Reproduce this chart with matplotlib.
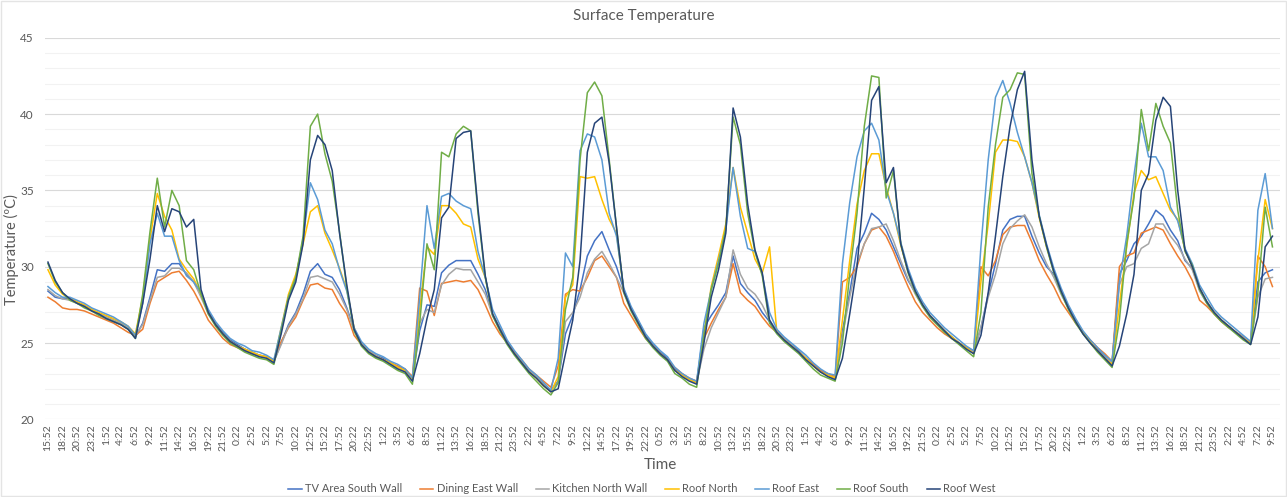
import matplotlib
matplotlib.use("Agg")
import matplotlib.pyplot as plt
from matplotlib.patches import Rectangle
from matplotlib.ticker import MultipleLocator
import numpy as np

START_MIN = 15 * 60 + 52   # first reading taken at 15:52
STEP_H = 1.25              # hours between readings
TICK_H = 2.5               # hours between axis labels

# surface temperatures (degC), one value per reading
tv_south = [
    28.4, 28.0, 27.9, 27.9, 27.7, 27.4, 27.2, 26.9, 26.7, 26.5, 26.3, 26.0, 25.4,
    26.3, 28.0, 29.8, 29.7, 30.2, 30.2, 29.5, 29.0,
    28.2, 27.1, 26.3, 25.7, 25.2, 24.9, 24.6, 24.4, 24.2, 24.1, 23.8,
    25.0, 26.2, 27.0, 28.2, 29.7, 30.2, 29.5, 29.3, 28.5, 27.3,
    25.9, 25.0, 24.5, 24.2, 24.0, 23.7, 23.4, 23.2, 22.6,
    25.8, 27.5, 27.4, 29.6, 30.1, 30.4, 30.4, 30.4, 29.5, 28.5,
    26.9, 26.0, 25.1, 24.4, 23.8, 23.2, 22.8, 22.3, 21.9,
    22.5, 25.6, 26.8, 28.5, 30.7, 31.7, 32.3, 31.1, 30.0,
    28.5, 27.3, 26.4, 25.5, 24.9, 24.4, 24.0, 23.3, 22.9, 22.6, 22.4,
    26.0, 26.8, 27.5, 28.3, 30.7, 28.9, 28.3, 27.8, 27.0, 26.4,
    25.8, 25.3, 24.9, 24.5, 24.0, 23.6, 23.2, 22.9, 22.7,
    25.8, 28.3, 31.2, 32.2, 33.5, 33.1, 32.4, 31.3, 30.2, 29.1,
    28.3, 27.5, 26.8, 26.3, 25.8, 25.4, 25.0, 24.7, 24.4,
    26.0, 28.2, 30.2, 32.4, 33.1, 33.3, 33.3, 32.0, 30.9, 30.0,
    29.5, 28.3, 27.3, 26.4, 25.7, 25.1, 24.6, 24.1, 23.7,
    29.5, 30.4, 31.5, 32.0, 32.8, 33.7, 33.3, 32.4, 31.7, 30.4, 29.9,
    28.5, 27.7, 27.0, 26.5, 26.1, 25.7, 25.4, 25.0, 29.0, 29.6, 29.8,
]
dining_east = [
    28.0, 27.7, 27.3, 27.2, 27.2, 27.1, 26.9, 26.7, 26.5, 26.3, 26.0, 25.7, 25.5,
    25.9, 27.6, 29.0, 29.3, 29.6, 29.7, 29.1, 28.4,
    27.5, 26.5, 25.9, 25.3, 24.9, 24.7, 24.5, 24.3, 24.2, 24.1, 23.9,
    25.1, 26.0, 26.7, 27.8, 28.8, 28.9, 28.6, 28.5, 27.6, 26.9,
    25.5, 24.9, 24.4, 24.1, 23.9, 23.7, 23.5, 23.3, 22.8,
    28.6, 28.4, 26.8, 28.9, 29.0, 29.1, 29.0, 29.1, 28.5, 27.5,
    26.4, 25.6, 25.0, 24.4, 23.9, 23.3, 22.9, 22.5, 22.1,
    23.5, 28.2, 28.5, 28.4, 29.3, 30.4, 30.7, 30.0, 29.3,
    27.6, 26.8, 26.0, 25.3, 24.8, 24.3, 23.9, 23.4, 23.0, 22.7, 22.5,
    25.3, 26.3, 27.2, 28.0, 30.2, 28.3, 27.8, 27.4, 26.7, 26.1,
    25.7, 25.2, 24.8, 24.4, 24.0, 23.6, 23.2, 23.0, 22.8,
    29.0, 29.3, 30.0, 31.5, 32.4, 32.6, 32.0, 31.0, 29.8, 28.7,
    27.7, 27.0, 26.5, 26.0, 25.6, 25.3, 25.0, 24.7, 24.5,
    30.0, 29.4, 30.4, 32.1, 32.6, 32.7, 32.7, 31.6, 30.4, 29.5,
    28.7, 27.7, 27.0, 26.3, 25.7, 25.2, 24.7, 24.3, 23.8,
    30.0, 30.7, 30.9, 32.2, 32.4, 32.6, 32.4, 31.5, 30.7, 30.0, 29.1,
    27.8, 27.4, 26.9, 26.4, 26.0, 25.7, 25.4, 25.1, 30.7, 30.0, 28.7,
]
kitchen_north = [
    28.5, 28.1, 27.9, 27.8, 27.6, 27.4, 27.2, 26.9, 26.7, 26.5, 26.3, 26.0, 25.5,
    26.2, 27.8, 29.3, 29.4, 29.9, 29.9, 29.6, 29.0,
    28.0, 26.9, 26.2, 25.6, 25.1, 24.8, 24.6, 24.4, 24.2, 24.1, 23.8,
    24.9, 26.1, 26.9, 27.9, 29.3, 29.4, 29.2, 29.0, 28.2, 27.2,
    25.8, 25.0, 24.5, 24.2, 23.9, 23.7, 23.4, 23.2, 22.7,
    26.3, 27.2, 27.0, 28.8, 29.5, 29.9, 29.8, 29.8, 29.0, 28.2,
    26.8, 25.9, 25.0, 24.3, 23.8, 23.2, 22.8, 22.3, 21.9,
    22.4, 26.4, 27.0, 28.0, 29.6, 30.5, 31.0, 30.2, 29.3,
    28.3, 27.2, 26.3, 25.4, 24.8, 24.3, 23.9, 23.2, 22.9, 22.6, 22.4,
    24.6, 26.0, 27.0, 28.0, 31.1, 29.5, 28.6, 28.2, 27.5, 26.5,
    25.8, 25.3, 24.9, 24.4, 24.0, 23.5, 23.1, 22.9, 22.7,
    25.5, 28.0, 30.2, 31.5, 32.5, 32.6, 32.8, 31.7, 30.4, 29.2,
    28.2, 27.4, 26.7, 26.2, 25.8, 25.4, 25.0, 24.7, 24.4,
    26.0, 28.0, 29.5, 31.5, 32.5, 33.0, 33.4, 32.6, 31.3, 30.2,
    29.3, 28.2, 27.3, 26.4, 25.7, 25.1, 24.5, 24.1, 23.7,
    28.8, 30.0, 30.2, 31.2, 31.5, 32.8, 32.8, 32.0, 31.4, 30.5, 29.8,
    28.4, 27.6, 27.0, 26.5, 26.1, 25.7, 25.4, 25.0, 28.0, 29.2, 29.3,
]
roof_north = [
    29.8, 28.8, 28.2, 27.9, 27.7, 27.5, 27.2, 27.0, 26.8, 26.6, 26.4, 26.1, 25.6,
    28.0, 31.8, 34.8, 33.3, 32.4, 30.5, 29.8, 29.2,
    28.2, 27.0, 26.2, 25.6, 25.1, 24.8, 24.6, 24.4, 24.2, 24.1, 23.8,
    26.0, 28.2, 29.5, 31.5, 33.6, 34.0, 32.2, 31.1, 29.9, 28.5,
    26.0, 24.9, 24.4, 24.1, 23.9, 23.7, 23.4, 23.2, 22.6,
    27.2, 31.3, 30.8, 34.0, 34.0, 33.5, 32.8, 32.6, 30.5, 29.3,
    26.9, 25.9, 25.0, 24.3, 23.7, 23.1, 22.7, 22.2, 21.8,
    22.8, 28.0, 28.8, 35.9, 35.8, 35.9, 34.4, 33.1, 32.2,
    28.4, 27.2, 26.3, 25.4, 24.8, 24.3, 23.9, 23.2, 22.9, 22.6, 22.4,
    25.6, 28.7, 30.7, 32.8, 36.5, 33.9, 32.2, 30.5, 29.6, 31.3,
    25.7, 25.2, 24.8, 24.4, 24.0, 23.5, 23.1, 22.9, 22.7,
    26.5, 30.4, 34.1, 36.3, 37.4, 37.4, 35.2, 33.5, 31.4, 29.7,
    28.4, 27.5, 26.8, 26.3, 25.8, 25.4, 25.0, 24.7, 24.3,
    29.0, 32.8, 37.5, 38.3, 38.3, 38.2, 37.2, 35.5, 33.2, 31.3,
    29.7, 28.4, 27.3, 26.4, 25.7, 25.1, 24.5, 24.0, 23.6,
    27.5, 31.3, 34.8, 36.3, 35.7, 35.9, 34.8, 33.7, 33.1, 31.1, 30.0,
    28.6, 27.7, 27.0, 26.5, 26.1, 25.7, 25.3, 25.0, 30.4, 34.4, 32.5,
]
roof_east = [
    28.7, 28.3, 28.0, 28.0, 27.8, 27.6, 27.3, 27.1, 26.9, 26.7, 26.4, 26.1, 25.5,
    27.6, 31.5, 33.5, 32.0, 32.0, 30.4, 29.4, 29.0,
    28.3, 27.2, 26.4, 25.8, 25.3, 25.0, 24.8, 24.5, 24.4, 24.2, 23.9,
    26.0, 28.0, 29.2, 31.8, 35.5, 34.4, 32.4, 31.5, 29.8, 28.4,
    26.0, 25.1, 24.6, 24.3, 24.1, 23.8, 23.6, 23.3, 22.7,
    28.0, 34.0, 31.2, 34.6, 34.8, 34.3, 34.0, 33.8, 31.0, 29.3,
    27.2, 26.2, 25.2, 24.5, 23.9, 23.3, 22.9, 22.4, 21.9,
    24.0, 30.9, 30.0, 37.6, 38.7, 38.5, 37.0, 33.5, 32.0,
    28.6, 27.4, 26.5, 25.6, 25.0, 24.5, 24.1, 23.4, 23.0, 22.7, 22.5,
    26.3, 28.5, 30.4, 32.4, 36.5, 33.3, 31.2, 31.0, 29.5, 27.0,
    25.9, 25.4, 25.0, 24.6, 24.2, 23.7, 23.3, 23.0, 22.9,
    30.2, 34.2, 37.2, 38.9, 39.4, 38.3, 35.0, 33.5, 31.6, 29.9,
    28.6, 27.7, 27.0, 26.5, 26.0, 25.6, 25.2, 24.8, 24.5,
    31.3, 37.0, 41.1, 42.2, 40.7, 38.8, 37.2, 35.5, 33.4, 31.5,
    29.9, 28.6, 27.5, 26.6, 25.8, 25.2, 24.7, 24.2, 23.8,
    29.0, 32.0, 36.0, 39.4, 37.2, 37.2, 36.3, 33.9, 33.0, 31.2, 30.2,
    28.8, 28.0, 27.2, 26.7, 26.3, 25.9, 25.5, 25.1, 33.7, 36.1, 32.5,
]
roof_south = [
    30.2, 29.0, 28.3, 27.8, 27.6, 27.3, 27.1, 26.8, 26.6, 26.4, 26.2, 25.9, 25.3,
    28.2, 32.3, 35.8, 32.6, 35.0, 34.0, 30.4, 29.8,
    28.2, 26.9, 26.1, 25.5, 25.0, 24.7, 24.4, 24.2, 24.0, 23.9, 23.6,
    25.8, 28.0, 29.3, 32.0, 39.2, 40.0, 37.4, 35.6, 32.3, 28.6,
    25.8, 24.8, 24.3, 24.0, 23.8, 23.5, 23.2, 23.0, 22.3,
    26.3, 31.5, 29.8, 37.5, 37.2, 38.7, 39.2, 38.9, 33.5, 29.3,
    26.8, 25.8, 24.9, 24.2, 23.6, 23.0, 22.5, 22.0, 21.6,
    22.4, 27.2, 29.3, 37.0, 41.4, 42.1, 41.2, 37.0, 32.6,
    28.3, 27.1, 26.2, 25.3, 24.7, 24.2, 23.8, 23.0, 22.7, 22.3, 22.1,
    25.5, 28.5, 30.2, 32.5, 39.8, 38.0, 33.5, 31.0, 29.4, 26.3,
    25.6, 25.1, 24.7, 24.3, 23.8, 23.3, 22.9, 22.7, 22.5,
    25.0, 29.5, 33.5, 39.2, 42.5, 42.4, 34.5, 36.3, 31.5, 29.6,
    28.3, 27.4, 26.7, 26.2, 25.7, 25.3, 24.9, 24.5, 24.1,
    27.0, 33.9, 38.0, 41.1, 41.6, 42.7, 42.6, 36.1, 33.3, 31.3,
    29.6, 28.3, 27.2, 26.3, 25.6, 25.0, 24.4, 23.9, 23.4,
    26.5, 31.5, 34.5, 40.3, 37.6, 40.7, 39.2, 38.1, 33.7, 31.0, 30.1,
    28.5, 27.6, 26.9, 26.4, 26.0, 25.6, 25.2, 24.9, 28.3, 33.9, 31.3,
]
roof_west = [
    30.3, 29.1, 28.3, 27.9, 27.6, 27.4, 27.1, 26.9, 26.6, 26.4, 26.2, 25.9, 25.3,
    27.6, 30.5, 34.0, 32.3, 33.8, 33.6, 32.6, 33.1,
    28.5, 27.0, 26.2, 25.6, 25.1, 24.8, 24.5, 24.3, 24.1, 24.0, 23.7,
    25.6, 27.8, 29.0, 31.5, 37.0, 38.6, 38.0, 36.3, 32.2, 28.8,
    25.9, 24.9, 24.4, 24.1, 23.9, 23.6, 23.3, 23.1, 22.5,
    24.3, 26.6, 28.5, 33.2, 33.9, 38.4, 38.8, 38.9, 33.8, 29.4,
    26.9, 25.9, 25.0, 24.3, 23.7, 23.1, 22.7, 22.2, 21.8,
    22.0, 24.3, 26.5, 30.4, 37.5, 39.4, 39.8, 36.8, 32.6,
    28.4, 27.2, 26.3, 25.4, 24.8, 24.3, 23.9, 23.2, 22.8, 22.5, 22.3,
    25.0, 28.0, 29.8, 32.2, 40.4, 38.5, 34.1, 31.1, 29.6, 26.5,
    25.7, 25.2, 24.8, 24.4, 23.9, 23.5, 23.1, 22.8, 22.6,
    24.0, 26.9, 30.0, 35.2, 40.9, 41.8, 35.5, 36.5, 31.5, 29.7,
    28.4, 27.5, 26.8, 26.3, 25.8, 25.3, 25.0, 24.6, 24.3,
    25.5, 28.3, 32.0, 35.9, 39.2, 41.6, 42.8, 37.0, 33.3, 31.4,
    29.7, 28.4, 27.3, 26.4, 25.6, 25.0, 24.5, 24.0, 23.5,
    24.8, 26.9, 29.5, 35.0, 36.1, 39.6, 41.1, 40.5, 35.0, 31.1, 30.0,
    28.6, 27.7, 27.0, 26.5, 26.1, 25.7, 25.3, 24.9, 26.7, 31.3, 32.0,
]

series = [
    ("TV Area South Wall", tv_south, "#4472C4"),
    ("Dining East Wall", dining_east, "#ED7D31"),
    ("Kitchen North Wall", kitchen_north, "#A5A5A5"),
    ("Roof North", roof_north, "#FFC000"),
    ("Roof East", roof_east, "#5B9BD5"),
    ("Roof South", roof_south, "#70AD47"),
    ("Roof West", roof_west, "#264478"),
]


def clock_label(h):
    m = int(round(START_MIN + h * 60)) % (24 * 60)
    return f"{m // 60}:{m % 60:02d}"


plt.rcParams["font.family"] = ["Lato", "DejaVu Sans"]
TEXT = "#595959"

fig = plt.figure(figsize=(12.87, 4.97), dpi=100)
fig.patches.append(Rectangle((0.001, 0.002), 0.998, 0.995, transform=fig.transFigure,
                             fill=False, edgecolor="#E4E4E4", lw=1.0))
ax = fig.add_axes([0.035, 0.1563, 0.9596, 0.7677])

for name, vals, col in series:
    hours = np.arange(len(vals)) * STEP_H
    ax.plot(hours, vals, color=col, lw=1.1, label=name)

ax.set_xlim(-0.5, 211.3)
ax.set_ylim(20, 45)
ax.yaxis.set_major_locator(MultipleLocator(5))
ax.yaxis.set_minor_locator(MultipleLocator(1))
ax.grid(which="major", axis="y", color="#D9D9D9", lw=0.8)
ax.grid(which="minor", axis="y", color="#F2F2F2", lw=0.8)
ax.set_axisbelow(True)

ticks = np.arange(0, (len(tv_south) - 1) * STEP_H + 0.01, TICK_H)
ax.set_xticks(ticks)
ax.set_xticklabels([clock_label(t) for t in ticks], rotation=90, fontsize=7.5, color=TEXT)
ax.tick_params(axis="x", length=0, pad=4)
ax.tick_params(axis="y", which="both", length=0, pad=8, labelsize=8.5, labelcolor=TEXT)
for s in ax.spines.values():
    s.set_visible(False)

fig.text(0.5, 1 - 16 / 497, "Surface Temperature", ha="center", va="center",
         fontsize=11, color=TEXT)
fig.text(11 / 1287, 1 - 250 / 497, "Temperature (ºC)", ha="center", va="center",
         rotation=90, fontsize=10.5, color=TEXT)
fig.text(660 / 1287, 1 - 465 / 497, "Time", ha="center", va="center",
         fontsize=11, color=TEXT)

fig.legend(loc="center", bbox_to_anchor=(642 / 1287, 1 - 489 / 497), ncol=7,
           frameon=False, fontsize=8, handlelength=1.2, handletextpad=0.3,
           columnspacing=1.6, labelcolor=TEXT)

fig.savefig("out.png", dpi=100)
